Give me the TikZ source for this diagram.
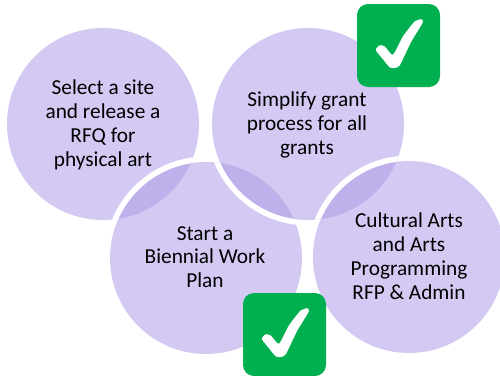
\documentclass[tikz,border=0pt]{standalone}
\usepackage{fontspec}
\setmainfont{Carlito}
\definecolor{disk}{HTML}{D4C9F3}
\definecolor{lens}{HTML}{BFB0EC}
\definecolor{okgreen}{HTML}{00B050}
\tikzset{
  x=1pt,y=-1pt,
  disklabel/.style={text=black,font=\fontsize{21.3}{23.8}\selectfont,align=center,inner sep=0pt},
  greenbox/.style={fill=okgreen,rounded corners=11pt},
  ringline/.style={draw=white,line width=5.5pt},
  tick/.style={fill=white,draw=white,line width=0.3pt,line join=round}
}
\newcommand{\rR}{96}
\newcommand{\rS}{98.7}
\newcommand{\tickbox}[2]{%
  \begin{scope}[shift={(#1,#2)}]
    \fill[greenbox] (0,0) rectangle (83,83);
    \path[tick] plot[smooth cycle,tension=0.35] coordinates {(19,46) (22.7,41.5) (27.7,42.7) (36,51) (46,32.7) (57.7,17.7) (64.3,15.6) (65.5,18.7) (54,37.7) (42.7,61) (37.7,63.8) (32.7,63.2) (26,55)};
  \end{scope}}
\begin{document}
\begin{tikzpicture}
\useasboundingbox (0,0) rectangle (500,375);
\coordinate (L) at (103,124);
\coordinate (T) at (308,124);
\coordinate (B) at (206,258);
\coordinate (R) at (409,257);
\foreach \c in {L,T,B,R} \fill[disk] (\c) circle[radius=\rR];
% overlaps
\begin{scope}\clip (L) circle[radius=\rR]; \fill[lens] (B) circle[radius=\rR]; \end{scope}
\begin{scope}\clip (T) circle[radius=\rR]; \fill[lens] (B) circle[radius=\rR]; \end{scope}
\begin{scope}\clip (T) circle[radius=\rR]; \fill[lens] (R) circle[radius=\rR]; \end{scope}
% white rims over the neighbouring disk
\begin{scope}\clip (L) circle[radius=\rR]; \draw[ringline] (B) circle[radius=\rS]; \end{scope}
\begin{scope}\clip (B) circle[radius=\rR]; \draw[ringline] (T) circle[radius=\rS]; \end{scope}
\begin{scope}\clip (T) circle[radius=\rR]; \draw[ringline] (R) circle[radius=\rS]; \end{scope}
\node[disklabel] (tl) at (103,125) {Select a site\\and release a\\RFQ for\\physical art};
\node[disklabel] (tt) at (307,125) {Simplify grant\\process for all\\grants};
\node[disklabel] (tb) at (205,257) {Start a\\Biennial Work\\Plan};
\node[disklabel] (tr) at (409,256) {Cultural Arts\\and Arts\\Programming\\RFP \& Admin};
\tickbox{357}{4}
\tickbox{243}{293}
\end{tikzpicture}
\end{document}
